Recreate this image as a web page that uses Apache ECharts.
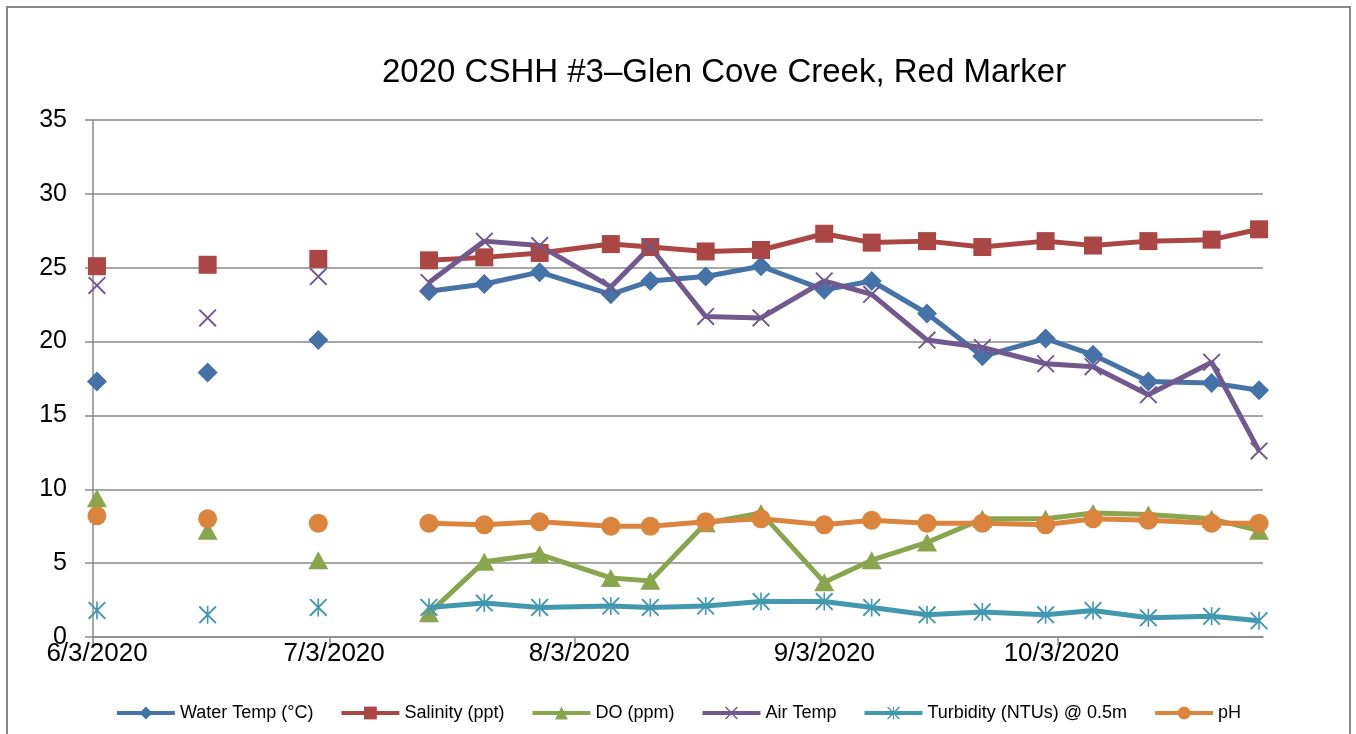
<!DOCTYPE html>
<html>
<head>
<meta charset="utf-8">
<script src="https://cdn.jsdelivr.net/npm/echarts@6/dist/echarts.min.js"></script>
<style>
  html, body { margin: 0; padding: 0; background: #fff; }
  #chart { width: 1356px; height: 734px; }
</style>
</head>
<body>
<div id="chart"></div>
<script>
var myChart = echarts.init(document.getElementById('chart'));

// sample dates (null rows = weeks without sampling, they break the lines)
var dates = ['2020-06-03', '2020-06-10', '2020-06-17', '2020-06-24', '2020-07-01', '2020-07-08',
  '2020-07-15', '2020-07-22', '2020-07-29', '2020-08-07', '2020-08-12', '2020-08-19', '2020-08-26',
  '2020-09-03', '2020-09-09', '2020-09-16', '2020-09-23', '2020-10-01', '2020-10-07', '2020-10-14',
  '2020-10-22', '2020-10-28'];

var waterTemp = [17.3, null, 17.9, null, 20.1, null, 23.4, 23.9, 24.7, 23.2, 24.1, 24.4, 25.1,
  23.5, 24.1, 21.9, 19.0, 20.2, 19.1, 17.3, 17.2, 16.7];
var salinity = [25.1, null, 25.2, null, 25.6, null, 25.5, 25.7, 26.0, 26.6, 26.4, 26.1, 26.2,
  27.3, 26.7, 26.8, 26.4, 26.8, 26.5, 26.8, 26.9, 27.6];
var dissolvedO2 = [9.4, null, 7.2, null, 5.2, null, 1.6, 5.1, 5.6, 4.0, 3.8, 7.7, 8.4,
  3.7, 5.2, 6.4, 8.0, 8.0, 8.4, 8.3, 8.0, 7.2];
var airTemp = [23.8, null, 21.6, null, 24.4, null, 24.0, 26.8, 26.5, 23.7, 26.4, 21.7, 21.6,
  24.1, 23.2, 20.1, 19.6, 18.5, 18.3, 16.4, 18.6, 12.6];
var turbidity = [1.8, null, 1.5, null, 2.0, null, 2.0, 2.3, 2.0, 2.1, 2.0, 2.1, 2.4,
  2.4, 2.0, 1.5, 1.7, 1.5, 1.8, 1.3, 1.4, 1.1];
var ph = [8.2, null, 8.0, null, 7.7, null, 7.7, 7.6, 7.8, 7.5, 7.5, 7.8, 8.0,
  7.6, 7.9, 7.7, 7.7, 7.6, 8.0, 7.9, 7.7, 7.7];

var tickDates = ['2020-06-03', '2020-07-03', '2020-08-03', '2020-09-03', '2020-10-03'];
var axisStart = '2020-06-03';
var axisEnd = '2020-10-29';

function dayStart(s) { return new Date(s + 'T00:00:00').getTime(); }
function midDay(s) { return new Date(s + 'T12:00:00').getTime(); }

function pairs(values) {
  return dates.map(function (d, i) { return [midDay(d), values[i]]; });
}

var fontName = 'Liberation Sans';
var gridColor = '#898989';

var xPath = 'path://M0,1.5 L1.5,0 L20,18.5 L18.5,20 Z M18.5,0 L20,1.5 L1.5,20 L0,18.5 Z';
var starPath = 'path://M0,1.5 L1.5,0 L20,18.5 L18.5,20 Z M18.5,0 L20,1.5 L1.5,20 L0,18.5 Z M9.1,0 L10.9,0 L10.9,20 L9.1,20 Z';

function lineSeries(name, values, color, symbol, size) {
  return {
    name: name,
    type: 'line',
    data: pairs(values),
    connectNulls: false,
    showAllSymbol: true,
    symbol: symbol,
    symbolSize: size,
    color: color,
    lineStyle: { width: 5, color: color },
    itemStyle: { color: color },
    emphasis: { disabled: true },
    animation: false
  };
}

option = {
  backgroundColor: '#ffffff',
  textStyle: { fontFamily: fontName },
  title: {
    text: '2020 CSHH #3\u2013Glen Cove Creek, Red Marker',
    left: 382,
    top: 56,
    padding: 0,
    textStyle: { fontFamily: fontName, fontSize: 33, fontWeight: 'normal', color: '#000' }
  },
  graphic: [{
    type: 'rect',
    shape: { x: 7, y: 7, width: 1343, height: 780 },
    style: { fill: 'none', stroke: '#888888', lineWidth: 2 },
    silent: true
  }],
  legend: {
    bottom: 7,
    left: 'center',
    itemWidth: 58,
    itemHeight: 16,
    itemGap: 26,
    lineStyle: { width: 4 },
    textStyle: { fontFamily: fontName, fontSize: 18, color: '#000' },
    data: ['Water Temp (\u00B0C)', 'Salinity (ppt)', 'DO (ppm)', 'Air Temp', 'Turbidity (NTUs) @ 0.5m', 'pH']
  },
  grid: { left: 93, right: 93, top: 120, bottom: 97 },
  xAxis: {
    type: 'value',
    min: dayStart(axisStart),
    max: dayStart(axisEnd),
    axisLine: { show: true, lineStyle: { color: gridColor, width: 1.5 } },
    axisTick: {
      show: true, length: 8, inside: false,
      customValues: tickDates.map(dayStart),
      lineStyle: { color: gridColor, width: 1.5 }
    },
    axisLabel: {
      customValues: tickDates.map(dayStart),
      fontSize: 26, color: '#000', margin: 4, fontFamily: fontName,
      padding: [0, 0, 0, 8],
      formatter: function (v) {
        var d = new Date(v);
        return (d.getMonth() + 1) + '/' + d.getDate() + '/' + d.getFullYear();
      }
    },
    splitLine: { show: false }
  },
  yAxis: {
    type: 'value',
    min: 0,
    max: 35,
    interval: 5,
    axisLine: { show: true, lineStyle: { color: gridColor, width: 1.5 } },
    axisTick: { show: true, length: 8, lineStyle: { color: gridColor, width: 1.5 } },
    axisLabel: { fontSize: 25, color: '#000', margin: 26, fontFamily: fontName },
    splitLine: { show: true, lineStyle: { color: gridColor, width: 1.5 } }
  },
  series: [
    lineSeries('Water Temp (\u00B0C)', waterTemp, '#4572A7', 'diamond', 20),
    lineSeries('Salinity (ppt)', salinity, '#AA4643', 'rect', 18),
    lineSeries('DO (ppm)', dissolvedO2, '#89A54E', 'triangle', [20, 18]),
    lineSeries('Air Temp', airTemp, '#71588F', xPath, 18),
    lineSeries('Turbidity (NTUs) @ 0.5m', turbidity, '#4198AF', starPath, 18),
    lineSeries('pH', ph, '#DB843D', 'circle', 19)
  ]
};

myChart.setOption(option);
</script>
</body>
</html>
